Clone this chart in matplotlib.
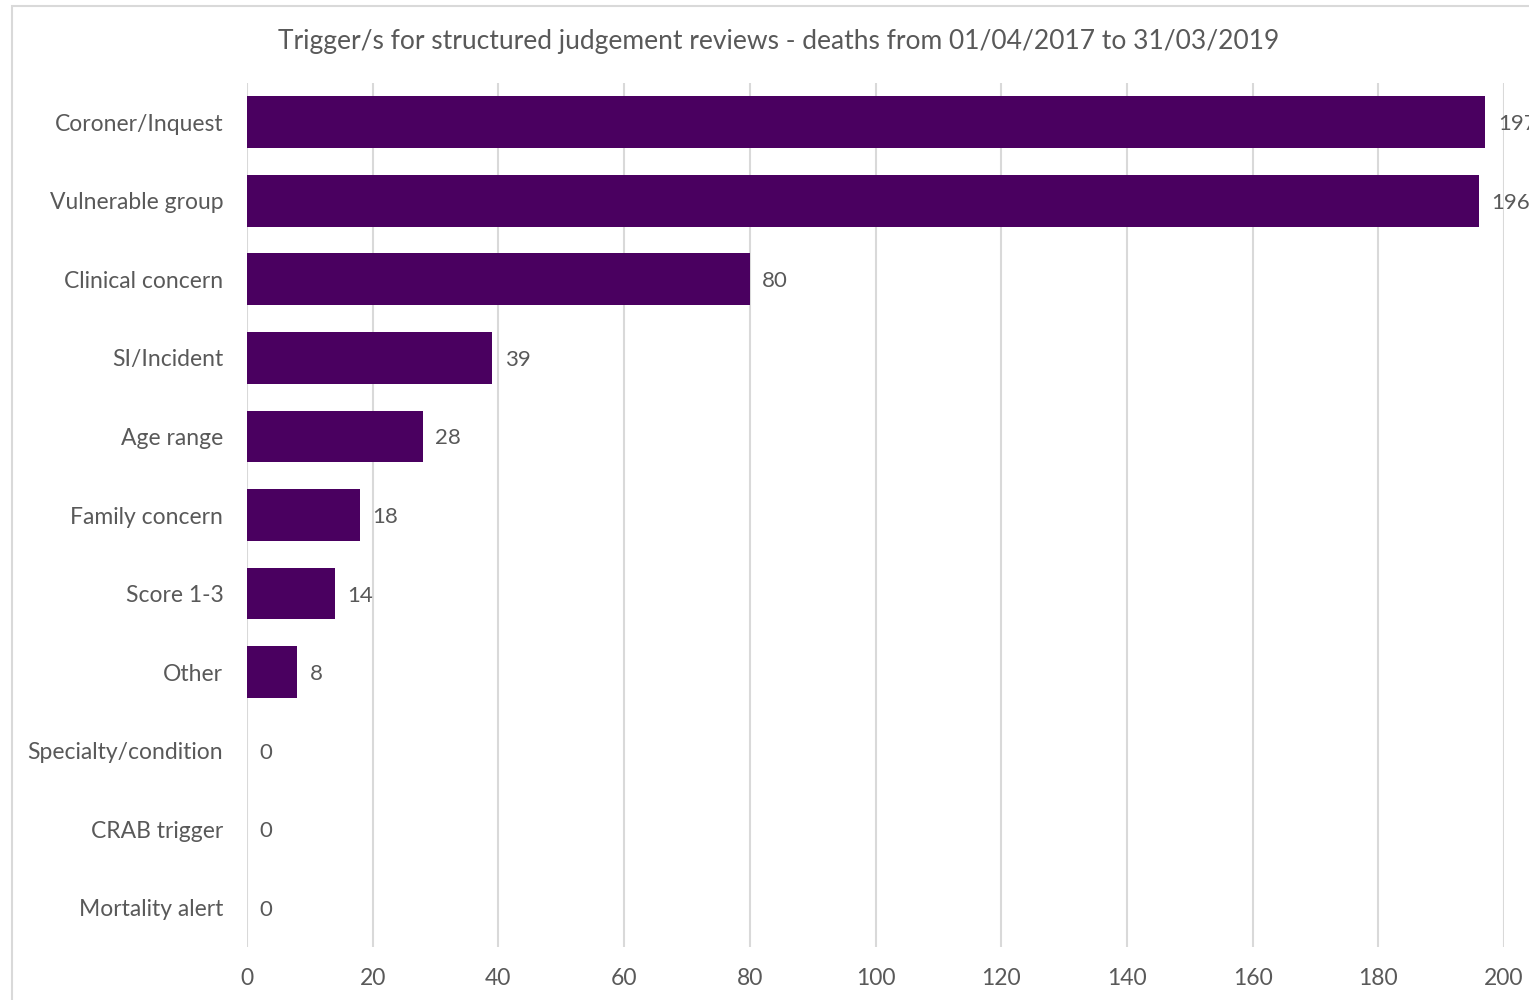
import matplotlib.pyplot as plt
from matplotlib.patches import Rectangle

# data
triggers = ["Coroner/Inquest", "Vulnerable group", "Clinical concern", "SI/Incident",
            "Age range", "Family concern", "Score 1-3", "Other",
            "Specialty/condition", "CRAB trigger", "Mortality alert"]
counts = [197, 196, 80, 39, 28, 18, 14, 8, 0, 0, 0]
xticks = list(range(0, 201, 20))

title = "Trigger/s for structured judgement reviews - deaths from 01/04/2017 to 31/03/2019"

plt.rcParams['font.family'] = ['Lato', 'DejaVu Sans']
grey = "#595959"

fig = plt.figure(figsize=(15.29, 10), dpi=100)
ax = fig.add_axes([0.1615, 0.053, 0.8222, 0.864])

ypos = list(range(len(triggers)))
ax.barh(ypos, counts, height=0.66, color="#4a0060", zorder=3)
for y, v in zip(ypos, counts):
    ax.annotate(str(v), (v, y), xytext=(9, 0), textcoords="offset points",
                va="center_baseline", ha="left", fontsize=16, color=grey,
                annotation_clip=False)

ax.set_ylim(len(triggers) - 0.5, -0.5)
ax.set_xlim(0, 200)
ax.set_yticks(ypos)
ax.set_yticklabels(triggers, va="center_baseline")
ax.set_xticks(xticks)
ax.tick_params(length=0, labelsize=16.5, colors=grey)
ax.tick_params(axis="y", pad=17)
ax.tick_params(axis="x", pad=15)
ax.grid(axis="x", color="#d9d9d9", linewidth=1.5, zorder=0)
for s in ax.spines.values():
    s.set_visible(False)

fig.text(0.509, 0.959, title, ha="center", va="center", fontsize=19, color=grey)

# chart area border
fig.patches.append(Rectangle((0.008, -0.01), 1.1, 1.004, transform=fig.transFigure,
                             fill=False, edgecolor="#d9d9d9", linewidth=1.5))

fig.savefig("out.png", dpi=100)
